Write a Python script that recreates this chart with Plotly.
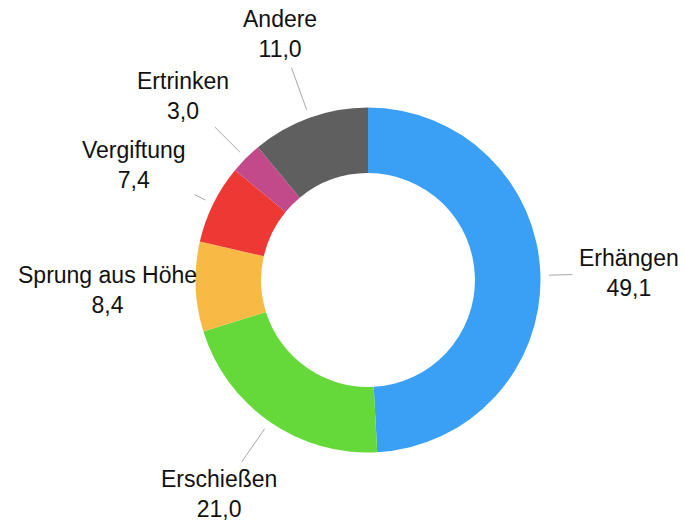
import math
import plotly.graph_objects as go

# ---- data ----
categories = ["Erhängen", "Erschießen", "Sprung aus Höhe", "Vergiftung", "Ertrinken", "Andere"]
values = [49.1, 21.0, 8.4, 7.4, 3.0, 11.0]
colors = ["#3AA0F6", "#66D93A", "#F9BA45", "#EE3833", "#C2498A", "#5F5F5F"]

# ---- layout geometry (pixels) ----
W, H = 684, 522
CX, CY = 368, 280          # donut centre
R = 172.5                  # outer radius
HOLE = 0.62
LABEL_R = 261              # radius of label-block centres
LEADER_START = R + 8.5
LEADER_PAD = 6.5
FONT_SIZE = 23
BLOCK_HALF_H = 27
# approximate half widths of the label blocks (for leader clipping)
half_w = [50, 60.5, 96, 55, 48.5, 38.5]


def to_paper(px, py):
    return px / W, 1 - py / H


fig = go.Figure(go.Pie(
    labels=categories,
    values=values,
    hole=HOLE,
    sort=False,
    direction="clockwise",
    rotation=0,
    marker=dict(colors=colors, line=dict(width=0)),
    textinfo="none",
    hoverinfo="label+value",
    showlegend=False,
    domain=dict(x=[(CX - R) / W, (CX + R) / W],
                y=[(H - CY - R) / H, (H - CY + R) / H]),
))

total = sum(values)
annotations = []
shapes = []
cum = 0.0
for cat, v, hw in zip(categories, values, half_w):
    mid = (cum + v / 2) / total * 2 * math.pi
    cum += v
    dx, dy = math.sin(mid), -math.cos(mid)   # screen direction (y down)
    tx, ty = CX + LABEL_R * dx, CY + LABEL_R * dy
    tvals = []
    if abs(dx) > 1e-9:
        tvals.append(hw / abs(dx))
    if abs(dy) > 1e-9:
        tvals.append(BLOCK_HALF_H / abs(dy))
    exit_r = LABEL_R - min(tvals) - LEADER_PAD
    if exit_r > LEADER_START + 2:
        x0, y0 = to_paper(CX + LEADER_START * dx, CY + LEADER_START * dy)
        x1, y1 = to_paper(CX + exit_r * dx, CY + exit_r * dy)
        shapes.append(dict(type="line", xref="paper", yref="paper",
                           x0=x0, y0=y0, x1=x1, y1=y1,
                           line=dict(color="#A8A8A8", width=1)))
    ax, ay = to_paper(tx, ty)
    annotations.append(dict(
        x=ax, y=ay, xref="paper", yref="paper",
        text=f"{cat}<br>{v:.1f}".replace(".", ","),
        showarrow=False, xanchor="center", yanchor="middle", align="center",
        font=dict(family="Liberation Sans, Arial, sans-serif", size=FONT_SIZE, color="#111111"),
    ))

fig.update_layout(
    width=W, height=H,
    margin=dict(l=0, r=0, t=0, b=0),
    paper_bgcolor="white",
    plot_bgcolor="white",
    annotations=annotations,
    shapes=shapes,
)

fig.write_html("out.html", config={"displayModeBar": False},
               post_script="document.body.style.margin='0';")
